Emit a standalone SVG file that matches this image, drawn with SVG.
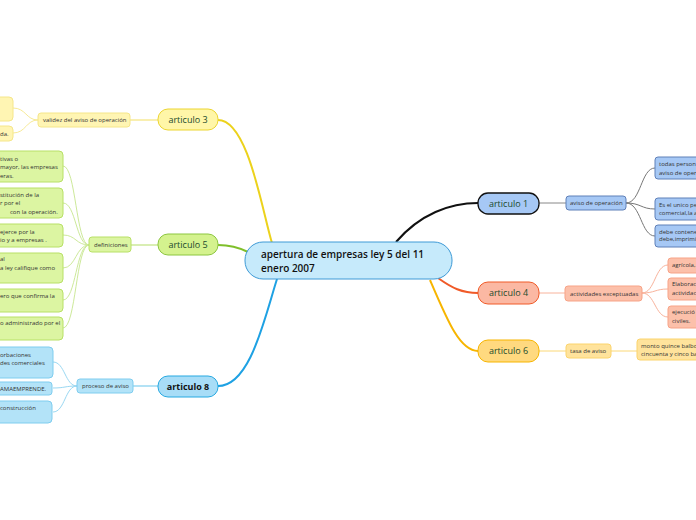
<svg xmlns="http://www.w3.org/2000/svg" width="696" height="520" viewBox="0 0 696 520">
<style>
text{font-family:"Open Sans","Liberation Sans",sans-serif;}
.t{font-size:6px;fill:#333;}
.art{font-size:9px;fill:#1b4a2c;text-anchor:middle;}
.c{fill:none;}
</style>
<rect width="696" height="520" fill="#fff"/>
<g id="connectors">
  <path class="c" d="M218,120 C248,120 262,210 272,243" stroke="#ecd21c" stroke-width="2"/>
  <path class="c" d="M218,245 C232,245 240,248 248,252" stroke="#7fbf2a" stroke-width="2"/>
  <path class="c" d="M218,386 C250,386 264,320 277,279" stroke="#1ea1e3" stroke-width="2"/>
  <path class="c" d="M396,242 C420,214 450,203 478,203" stroke="#111" stroke-width="2"/>
  <path class="c" d="M438,278 C452,288 462,293 478,293" stroke="#f05a28" stroke-width="2"/>
  <path class="c" d="M430,280 C448,322 460,351 478,351" stroke="#f7b500" stroke-width="2"/>
  <path class="c" d="M158,120 L130,120" stroke="#f7ea96" stroke-width="1.5"/>
  <path class="c" d="M158,245 L131,245" stroke="#cde99a" stroke-width="1.5"/>
  <path class="c" d="M158,386 L133,386" stroke="#9ad8f2" stroke-width="1.5"/>
  <path class="c" d="M539,203 L566,203" stroke="#888" stroke-width="1"/>
  <path class="c" d="M539,293 L565,293" stroke="#f8b39c" stroke-width="1"/>
  <path class="c" d="M539,351 L566,351" stroke="#fbd877" stroke-width="1"/>
  <path class="c" d="M38,120 C26,120 26,108 13,108" stroke="#f7ea96" stroke-width="1"/>
  <path class="c" d="M38,120 C26,120 26,133 13,133" stroke="#f7ea96" stroke-width="1"/>
  <path class="c" d="M89,245 C76,245 76,166 63,166" stroke="#cde99a" stroke-width="1"/>
  <path class="c" d="M89,245 C76,245 76,203 63,203" stroke="#cde99a" stroke-width="1"/>
  <path class="c" d="M89,245 C76,245 76,235 63,235" stroke="#cde99a" stroke-width="1"/>
  <path class="c" d="M89,245 C76,245 76,268 63,268" stroke="#cde99a" stroke-width="1"/>
  <path class="c" d="M89,245 C76,245 76,300 63,300" stroke="#cde99a" stroke-width="1"/>
  <path class="c" d="M89,245 C76,245 76,328 63,328" stroke="#cde99a" stroke-width="1"/>
  <path class="c" d="M77,386 C65,386 65,362 53,362" stroke="#9ad8f2" stroke-width="1"/>
  <path class="c" d="M77,386 C65,386 65,388 53,388" stroke="#9ad8f2" stroke-width="1"/>
  <path class="c" d="M77,386 C65,386 65,412 53,412" stroke="#9ad8f2" stroke-width="1"/>
  <path class="c" d="M626,203 C641,203 641,168 655,168" stroke="#777" stroke-width="1"/>
  <path class="c" d="M626,203 C641,203 641,209 655,209" stroke="#777" stroke-width="1"/>
  <path class="c" d="M626,203 C641,203 641,236 655,236" stroke="#777" stroke-width="1"/>
  <path class="c" d="M642,293 C655,293 655,265 668,265" stroke="#f8b39c" stroke-width="1"/>
  <path class="c" d="M642,293 C655,293 655,289 668,289" stroke="#f8b39c" stroke-width="1"/>
  <path class="c" d="M642,293 C655,293 655,317 668,317" stroke="#f8b39c" stroke-width="1"/>
  <path class="c" d="M611,351 L637,351" stroke="#fbd877" stroke-width="1"/>
</g>

<g id="central">
  <rect x="245" y="242" width="207" height="37" rx="18" fill="#c6eafb" stroke="#3e9ad6" stroke-width="1"/>
  <text x="261" y="258" style="font-size:10px;font-weight:600;fill:#111">apertura de empresas ley 5 del 11</text>
  <text x="261" y="272" style="font-size:10px;font-weight:600;fill:#111">enero 2007</text>
</g>

<g id="articulo3">
  <rect x="158" y="109" width="60" height="21" rx="10" fill="#fff6a8" stroke="#ecd530" stroke-width="1"/>
  <text class="art" x="188" y="123">articulo 3</text>
</g>
<g id="validez">
  <rect x="38" y="113" width="92" height="14" rx="3" fill="#fff5b3" stroke="#f5e68a" stroke-width="1"/>
  <text class="t" x="43" y="122">validez del aviso de operación</text>
</g>
<g id="validez-a"><rect x="-6" y="97" width="19" height="24" rx="4" fill="#fff5b3" stroke="#f5e68a"/></g>
<g id="validez-b"><rect x="-6" y="126" width="19" height="15" rx="4" fill="#fff5b3" stroke="#f5e68a"/><text class="t" x="0" y="136">da.</text></g>

<g id="articulo5">
  <rect x="158" y="234" width="60" height="21" rx="10" fill="#d4f28e" stroke="#8cc63f" stroke-width="1"/>
  <text class="art" x="188" y="248">articulo 5</text>
</g>
<g id="definiciones">
  <rect x="89" y="237" width="42" height="15" rx="3" fill="#dcf5a2" stroke="#b8e066" stroke-width="1"/>
  <text class="t" x="94" y="247">definiciones</text>
</g>
<g id="def-1"><rect x="-6" y="151" width="69" height="31" rx="4" fill="#dcf5a2" stroke="#b8e066"/>
  <text class="t" x="0" y="161">tivas o</text><text class="t" x="0" y="169">mayor, las empresas</text><text class="t" x="0" y="178">eras.</text></g>
<g id="def-2"><rect x="-6" y="188" width="69" height="30" rx="4" fill="#dcf5a2" stroke="#b8e066"/>
  <text class="t" x="0" y="197">stitución  de la</text><text class="t" x="0" y="205">r por el</text><text class="t" x="10" y="214">con la operación.</text></g>
<g id="def-3"><rect x="-6" y="224" width="69" height="23" rx="4" fill="#dcf5a2" stroke="#b8e066"/>
  <text class="t" x="0" y="234">ejerce por la</text><text class="t" x="0" y="242">io y a empresas .</text></g>
<g id="def-4"><rect x="-6" y="253" width="69" height="30" rx="4" fill="#dcf5a2" stroke="#b8e066"/>
  <text class="t" x="0" y="261">al</text><text class="t" x="0" y="270">a ley califique como</text></g>
<g id="def-5"><rect x="-6" y="289" width="69" height="23" rx="4" fill="#dcf5a2" stroke="#b8e066"/>
  <text class="t" x="0" y="298">ero que confirma la</text></g>
<g id="def-6"><rect x="-6" y="317" width="69" height="23" rx="4" fill="#dcf5a2" stroke="#b8e066"/>
  <text class="t" x="0" y="325">o administrado por el</text></g>

<g id="articulo8">
  <rect x="158" y="376" width="60" height="21" rx="10" fill="#a8ddf7" stroke="#27a9e1" stroke-width="1"/>
  <text class="art" x="188" y="390" style="fill:#111;font-weight:bold">articulo 8</text>
</g>
<g id="proceso">
  <rect x="77" y="379" width="56" height="14" rx="3" fill="#b3e3f8" stroke="#7fcdef" stroke-width="1"/>
  <text class="t" x="82" y="388">proceso de aviso</text>
</g>
<g id="proc-1"><rect x="-6" y="347" width="59" height="31" rx="4" fill="#b3e3f8" stroke="#7fcdef"/>
  <text class="t" x="0" y="357">orbaciones</text><text class="t" x="0" y="365">des comerciales</text></g>
<g id="proc-2"><rect x="-6" y="382" width="58" height="13" rx="3" fill="#b3e3f8" stroke="#7fcdef"/>
  <text class="t" x="0" y="391">AMAEMPRENDE.</text></g>
<g id="proc-3"><rect x="-6" y="401" width="58" height="22" rx="4" fill="#b3e3f8" stroke="#7fcdef"/>
  <text class="t" x="0" y="410">construcción</text></g>

<g id="articulo1">
  <rect x="478" y="193" width="61" height="21" rx="10" fill="#a6c8f5" stroke="#111" stroke-width="1.3"/>
  <text class="art" x="508.5" y="207">articulo 1</text>
</g>
<g id="aviso">
  <rect x="566" y="196" width="60" height="14" rx="3" fill="#a6c8f5" stroke="#5f80b8" stroke-width="1"/>
  <text class="t" x="570" y="205">aviso de operación</text>
</g>
<g id="aviso-1"><rect x="655" y="157" width="50" height="22" rx="3" fill="#a6c8f5" stroke="#5f80b8"/>
  <text class="t" x="659" y="166">todas person</text><text class="t" x="659" y="175">aviso de oper</text></g>
<g id="aviso-2"><rect x="655" y="198" width="50" height="22" rx="3" fill="#a6c8f5" stroke="#5f80b8"/>
  <text class="t" x="659" y="207">Es el unico per</text><text class="t" x="659" y="215">comercial,la a</text></g>
<g id="aviso-3"><rect x="655" y="225" width="50" height="22" rx="3" fill="#a6c8f5" stroke="#5f80b8"/>
  <text class="t" x="659" y="234">debe contener</text><text class="t" x="659" y="241">debe,imprimir</text></g>

<g id="articulo4">
  <rect x="478" y="282" width="61" height="22" rx="10" fill="#fbb8a3" stroke="#f05a28" stroke-width="1"/>
  <text class="art" x="508.5" y="296">articulo 4</text>
</g>
<g id="actividades">
  <rect x="565" y="286" width="77" height="15" rx="3" fill="#fcc0aa" stroke="#f7a387" stroke-width="1"/>
  <text class="t" x="570" y="296">actividades exceptuadas</text>
</g>
<g id="act-1"><rect x="668" y="258" width="40" height="15" rx="3" fill="#fcc0aa" stroke="#f7a387"/>
  <text class="t" x="672" y="267">agrícola,</text></g>
<g id="act-2"><rect x="668" y="278" width="40" height="22" rx="3" fill="#fcc0aa" stroke="#f7a387"/>
  <text class="t" x="672" y="286">Elaborac</text><text class="t" x="672" y="295">actividac</text></g>
<g id="act-3"><rect x="668" y="306" width="40" height="22" rx="3" fill="#fcc0aa" stroke="#f7a387"/>
  <text class="t" x="672" y="314">ejecució</text><text class="t" x="672" y="323">civiles.</text></g>

<g id="articulo6">
  <rect x="478" y="340" width="61" height="22" rx="10" fill="#ffd97f" stroke="#f7b500" stroke-width="1"/>
  <text class="art" x="508.5" y="354">articulo 6</text>
</g>
<g id="tasa">
  <rect x="566" y="344" width="45" height="14" rx="3" fill="#ffe39c" stroke="#fbd46d" stroke-width="1"/>
  <text class="t" x="570" y="353">tasa de aviso</text>
</g>
<g id="tasa-1"><rect x="637" y="339" width="70" height="21" rx="3" fill="#ffe39c" stroke="#fbd46d"/>
  <text class="t" x="641" y="348">monto quince balbo</text><text class="t" x="641" y="356">cincuenta y cinco ba</text></g>
</svg>
